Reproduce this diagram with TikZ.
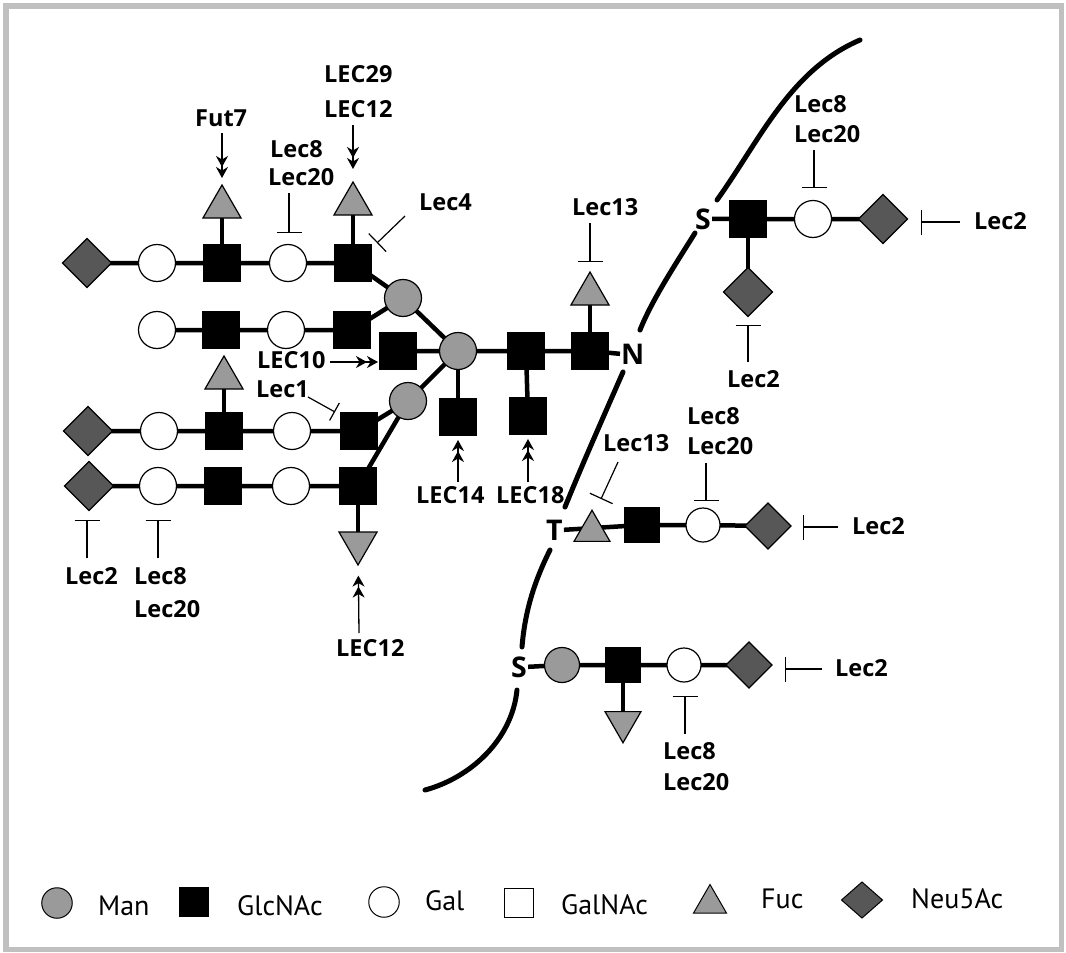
\documentclass[tikz,border=0pt]{standalone}
\usepackage{fontspec}
\setmainfont{PT Sans}
\newfontfamily\labfont{Open Sans}
\usetikzlibrary{shapes.geometric,arrows.meta,backgrounds}
\definecolor{mangray}{HTML}{9A9A9A}
\definecolor{neugray}{HTML}{575757}
\definecolor{framegray}{HTML}{C0C0C0}
\tikzset{
  bond/.style={line width=4.5pt},
  sym/.style={draw=black, line width=1.2pt, inner sep=0pt, outer sep=0pt},
  man/.style={sym, circle, fill=mangray, minimum size=37pt},
  gal/.style={sym, circle, fill=white, minimum size=37pt},
  glc/.style={sym, rectangle, fill=black, minimum size=36pt},
  fuc/.style={sym, regular polygon, regular polygon sides=3, fill=mangray, minimum size=44pt},
  fucdown/.style={fuc, shape border rotate=180},
  neu/.style={sym, diamond, fill=neugray, minimum size=49pt},
  lab/.style={font=\labfont\bfseries\fontsize{23.5}{28}\selectfont, inner sep=0pt, anchor=base west},
  term/.style={font=\labfont\bfseries\fontsize{28.5}{32}\selectfont, inner sep=1pt, anchor=base west},
  leg/.style={font=\fontsize{28}{32}\selectfont, inner sep=0pt, anchor=base west},
  inh/.style={line width=1.2pt, -{Bar[width=25pt]}},
  act/.style={line width=1.3pt, -{Stealth[length=11pt,width=12pt,inset=3.5pt]Stealth[length=11pt,width=12pt,inset=3.5pt]}},
  membrane/.style={line width=5pt, line cap=round},
}
\begin{document}
\begin{tikzpicture}[x=1pt,y=-1pt]
\useasboundingbox (0,0) rectangle (1066,953);
\draw[framegray, line width=5.5pt] (5.75,5.75) rectangle (1061.25,949.5);

% ---------- N-glycan (left) ----------
% row 1
\node[neu] (dA) at (87,263) {};
\node[gal] (cA1) at (157,263) {};
\node[glc] (sA1) at (222,263) {};
\node[gal] (cA2) at (288,263) {};
\node[glc] (sA2) at (353,263) {};
\node[fuc] (tA1) at (222,207) {};
\node[fuc] (tA2) at (353,204) {};
% row 2
\node[gal] (cB1) at (157,330) {};
\node[glc] (sB1) at (221,330) {};
\node[gal] (cB2) at (286,330) {};
\node[glc] (sB2) at (352,330) {};
% row 3
\node[neu] (dC) at (88,431) {};
\node[gal] (cC1) at (159,431) {};
\node[glc] (sC1) at (224,431) {};
\node[gal] (cC2) at (292,431) {};
\node[glc] (sC2) at (359,431) {};
\node[fuc] (tB) at (224,378) {};
% row 4
\node[neu] (dD) at (89,486) {};
\node[gal] (cD1) at (158,486) {};
\node[glc] (sD1) at (223,486) {};
\node[gal] (cD2) at (291,486) {};
\node[glc] (sD2) at (358,486) {};
\node[fucdown] (tD) at (358,543) {};
% core
\node[man] (mU) at (403,298) {};
\node[man] (mC) at (458,351) {};
\node[man] (mL) at (408,401) {};
\node[glc] (sL) at (398,351) {};
\node[glc] (sR1) at (526,351) {};
\node[glc] (sR2) at (590,351) {};
\node[fuc] (tR) at (590,294) {};
\node[glc] (sD14) at (458,417) {};
\node[glc] (sD18) at (528,416) {};
\node[term] (N) at (620,364) {N};

% ---------- O-glycans (right) ----------
\node[term] (S1) at (694,229) {S};
\node[glc, minimum size=37pt] (q1) at (748,219) {};
\node[gal] (c1) at (813,219) {};
\node[neu] (d1) at (883,219) {};
\node[neu] (d2) at (748,292) {};

\node[term] (T) at (545,540) {T};
\node[fuc, minimum size=41.5pt] (triT) at (592,531) {};
\node[glc, minimum size=34pt] (q2) at (642,525) {};
\node[gal, minimum size=34pt] (c2) at (703,525) {};
\node[neu, minimum size=46pt] (d3) at (768,526) {};

\node[term] (S2) at (510,677) {S};
\node[man, minimum size=35pt] (m2) at (562,665) {};
\node[glc, minimum size=34pt] (q3) at (623,665) {};
\node[gal, minimum size=34pt] (c3) at (684,665) {};
\node[neu, minimum size=46pt] (d4) at (749,665) {};
\node[fucdown, minimum size=41.5pt] (tq3) at (623,722) {};

% ---------- bonds ----------
\begin{scope}[on background layer]
\draw[bond] (dA.center) -- (cA1.center) -- (sA1.center) -- (cA2.center) -- (sA2.center) -- (mU.center);
\draw[bond] (sA1.center) -- (tA1.center);
\draw[bond] (sA2.center) -- (tA2.center);
\draw[bond] (cB1.center) -- (sB1.center) -- (cB2.center) -- (sB2.center) -- (mU.center);
\draw[bond] (dC.center) -- (cC1.center) -- (sC1.center) -- (cC2.center) -- (sC2.center) -- (mL.center);
\draw[bond] (sC1.center) -- (tB.center);
\draw[bond] (dD.center) -- (cD1.center) -- (sD1.center) -- (cD2.center) -- (sD2.center) -- (mL.center);
\draw[bond] (sD2.center) -- (tD.center);
\draw[bond] (mU.center) -- (mC.center);
\draw[bond] (mL.center) -- (mC.center);
\draw[bond] (sL.center) -- (mC.center) -- (sR1.center) -- (sR2.center) -- (N.west);
\draw[bond] (sR2.center) -- (tR.center);
\draw[bond] (mC.center) -- (sD14.center);
\draw[bond] (sR1.center) -- (sD18.center);
\draw[bond] (S1.east) -- (q1.center) -- (c1.center) -- (d1.center);
\draw[bond] (q1.center) -- (d2.center);
\draw[bond] (T.east) -- (q2.center) -- (c2.center) -- (d3.center);
\draw[bond] (S2.east) -- (m2.center) -- (q3.center) -- (c3.center) -- (d4.center);
\draw[bond] (q3.center) -- (tq3.center);
\end{scope}

% ---------- membrane ----------
\draw[membrane] (860,40) .. controls (790,70) and (760,140) .. (717,200);
\draw[membrane] (695,233) .. controls (675,265) and (652,300) .. (640,330);
\draw[membrane] (623,372) .. controls (602,420) and (582,465) .. (565,507);
\draw[membrane] (550,550) .. controls (535,580) and (525,610) .. (522,647);
\draw[membrane] (517,690) .. controls (512,740) and (470,778) .. (425,790);

% ---------- labels ----------
\node[lab] (fut7) at (195,126) {Fut7};
\node[lab] (lec29) at (324,82) {LEC29};
\node[lab] (lec12t) at (324,117) {LEC12};
\node[lab] (l8a) at (270,157) {Lec8};
\node[lab] (l20a) at (268,185) {Lec20};
\node[lab] (lec4) at (419,210) {Lec4};
\node[lab] (lec10) at (257,368) {LEC10};
\node[lab] (lec1) at (256,397) {Lec1};
\node[lab] (l2a) at (65,584) {Lec2};
\node[lab] (l8b) at (134,584) {Lec8};
\node[lab] (l20b) at (134,617) {Lec20};
\node[lab] (lec12b) at (336,656) {LEC12};
\node[lab] (l13a) at (572,215) {Lec13};
\node[lab] (lec14) at (416,503) {LEC14};
\node[lab] (lec18) at (496,503) {LEC18};
\node[lab] (l8c) at (794,112) {Lec8};
\node[lab] (l20c) at (794,142) {Lec20};
\node[lab] (l2b) at (974,229) {Lec2};
\node[lab] (l2c) at (727,387) {Lec2};
\node[lab] (l13b) at (603,451) {Lec13};
\node[lab] (l8d) at (687,424) {Lec8};
\node[lab] (l20d) at (687,454) {Lec20};
\node[lab] (l2d) at (852,534) {Lec2};
\node[lab] (l2e) at (835,676) {Lec2};
\node[lab] (l8e) at (663,759) {Lec8};
\node[lab] (l20e) at (663,790) {Lec20};

% ---------- activating arrows ----------
\coordinate (a1) at (222,133);
\coordinate (a2) at (353,125);
\coordinate (a3) at (330,362);
\coordinate (a4) at (458,482);
\coordinate (a5) at (528,482);
\coordinate (a6) at (359,633);
\draw[act, shorten >=7pt] (a1) -- (tA1);
\draw[act, shorten >=13pt] (a2) -- (tA2);
\draw[act, shorten >=2pt] (a3) -- (a3 -| sL.west);
\draw[act, shorten >=5pt] (a4) -- (sD14);
\draw[act, shorten >=5pt] (a5) -- (sD18);
\draw[act, shorten >=11pt] (a6) -- (tD);

% ---------- inhibitors ----------
\coordinate (i1s) at (289,193);  \coordinate (i1e) at (289,233);
\coordinate (i2s) at (405,216);  \coordinate (i2e) at (377,243);
\coordinate (i3s) at (308,397);  \coordinate (i3e) at (335,412);
\coordinate (i4s) at (87,558);   \coordinate (i4e) at (87,520);
\coordinate (i5s) at (158,558);  \coordinate (i5e) at (158,520);
\coordinate (i6s) at (590,223);  \coordinate (i6e) at (590,262);
\coordinate (i7s) at (814,150);  \coordinate (i7e) at (814,188);
\coordinate (i8s) at (960,222);  \coordinate (i8e) at (921,222);
\coordinate (i9s) at (748,362);  \coordinate (i9e) at (748,325);
\coordinate (i10s) at (618,462); \coordinate (i10e) at (601,499);
\coordinate (i11s) at (706,463); \coordinate (i11e) at (706,501);
\coordinate (i12s) at (838,527); \coordinate (i12e) at (803,527);
\coordinate (i13s) at (685,734); \coordinate (i13e) at (685,696);
\coordinate (i14s) at (822,669); \coordinate (i14e) at (785,669);
\draw[inh] (i1s) -- (i1e);
\draw[inh] (i2s) -- (i2e);
\draw[inh, -{Bar[width=20pt]}] (i3s) -- (i3e);
\draw[inh] (i4s) -- (i4e);
\draw[inh] (i5s) -- (i5e);
\draw[inh] (i6s) -- (i6e);
\draw[inh] (i7s) -- (i7e);
\draw[inh] (i8s) -- (i8e);
\draw[inh] (i9s) -- (i9e);
\draw[inh] (i10s) -- (i10e);
\draw[inh] (i11s) -- (i11e);
\draw[inh] (i12s) -- (i12e);
\draw[inh] (i13s) -- (i13e);
\draw[inh] (i14s) -- (i14e);

% ---------- legend ----------
\begin{scope}[sym/.append style={line width=1pt}]
\node[man, minimum size=30.5pt] (lgMan) at (57,903) {};
\node[leg] (lgManT) at (98,915) {Man};
\node[glc, minimum size=29pt] (lgGlc) at (194,902) {};
\node[leg] (lgGlcT) at (237,915) {GlcNAc};
\node[gal, minimum size=30.5pt] (lgGal) at (384,902) {};
\node[leg] (lgGalT) at (425,910) {Gal};
\node[sym, rectangle, fill=white, minimum size=29pt] (lgGalNAc) at (519,903) {};
\node[leg] (lgGalNAcT) at (561,914) {GalNAc};
\node[fuc, minimum size=38pt] (lgFuc) at (710,903.5) {};
\node[leg] (lgFucT) at (761,908) {Fuc};
\node[sym, diamond, fill=neugray, minimum width=41pt, minimum height=36pt] (lgNeu) at (862,900) {};
\node[leg] (lgNeuT) at (911,908) {Neu5Ac};
\end{scope}
\end{tikzpicture}
\end{document}
